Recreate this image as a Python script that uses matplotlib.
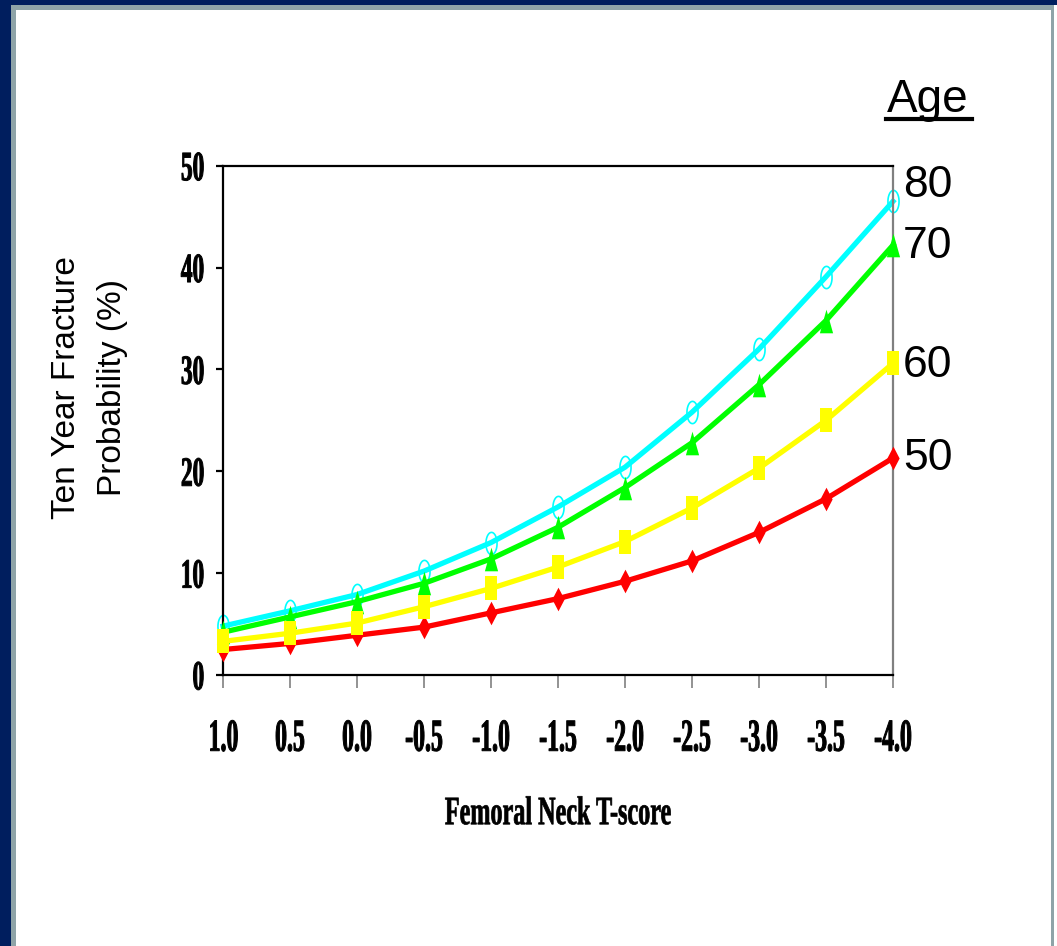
import matplotlib
matplotlib.use("Agg")
import matplotlib.pyplot as plt
import numpy as np
from matplotlib.lines import Line2D
from matplotlib.patches import Rectangle
from matplotlib.patheffects import AbstractPathEffect
from matplotlib.transforms import Affine2D

# femoral neck T-score and ten year fracture probability (%) per age group
tscore = [1.0, 0.5, 0.0, -0.5, -1.0, -1.5, -2.0, -2.5, -3.0, -3.5, -4.0]
tscore_labels = ["1.0", "0.5", "0.0", "-0.5", "-1.0", "-1.5",
                 "-2.0", "-2.5", "-3.0", "-3.5", "-4.0"]
prob_age50 = [2.5, 3.1, 3.9, 4.7, 6.1, 7.5, 9.2, 11.2, 14.0, 17.3, 21.3]
prob_age60 = [3.3, 4.1, 5.1, 6.7, 8.5, 10.6, 13.1, 16.4, 20.3, 25.0, 30.6]
prob_age70 = [4.2, 5.7, 7.2, 9.0, 11.4, 14.5, 18.4, 22.8, 28.5, 34.8, 42.2]
prob_age80 = [4.8, 6.3, 7.9, 10.2, 13.0, 16.5, 20.4, 25.8, 32.0, 39.1, 46.5]
yticks = [0, 10, 20, 30, 40, 50]

W, H = 1057, 946
NAVY = "#001e5e"
SLATE = "#8fa4a8"


class Narrow(AbstractPathEffect):
    """Squeeze glyphs horizontally (condensed look), optionally thickened."""

    def __init__(self, sx=0.55, anchor="center", stroke=0.0):
        super().__init__()
        self.sx = sx
        self.anchor = anchor
        self.stroke = stroke

    def draw_path(self, renderer, gc, tpath, affine, rgbFace=None):
        ext = tpath.get_extents()
        x0 = ext.x1 if self.anchor == "right" else 0.5 * (ext.x0 + ext.x1)
        squeeze = Affine2D().translate(-x0, 0).scale(self.sx, 1).translate(x0, 0)
        gc0 = renderer.new_gc()
        gc0.copy_properties(gc)
        if self.stroke > 0:
            gc0.set_linewidth(self.stroke)
            gc0.set_foreground(rgbFace)
        renderer.draw_path(gc0, tpath, squeeze + affine, rgbFace)
        gc0.restore()


def fx(x):
    return x / W


def fy(y):
    return 1 - y / H


fig = plt.figure(figsize=(W / 100, H / 100), dpi=100)
fig.patch.set_facecolor("white")

# slide frame
for x0, y0, x1, y1, c in [
    (0, 0, W, 5, NAVY),
    (0, 0, 11, H, NAVY),
    (11, 5, 1054, 10, SLATE),
    (11, 5, 16, H, SLATE),
    (1051, 5, 1054, H, SLATE),
]:
    fig.add_artist(Rectangle((fx(x0), fy(y1)), (x1 - x0) / W, (y1 - y0) / H,
                             transform=fig.transFigure, color=c, lw=0))

ax = fig.add_axes([fx(223), fy(675), fx(893) - fx(223), fy(165.7) - fy(675)])
ax.set_facecolor("white")

# tall, narrow marker shapes
t = np.linspace(0, 2 * np.pi, 48)
ellipse = list(zip(0.5 * np.cos(t), np.sin(t)))
triangle = [(-0.56, -1), (0.56, -1), (0, 1)]
square = [(-0.52, -1), (0.52, -1), (0.52, 1), (-0.52, 1)]
diamond = [(0, -1), (0.52, 0), (0, 1), (-0.52, 0)]

ax.plot(tscore, prob_age80, color="#00ffff", lw=3.8, marker=ellipse, ms=16,
        mfc="none", mec="#00ffff", mew=1.2, clip_on=False, zorder=2)
ax.plot(tscore, prob_age70, color="#00ff00", lw=3.8, marker=triangle, ms=17,
        mfc="#00ff00", mec="#00ff00", mew=0, clip_on=False, zorder=3)
ax.plot(tscore, prob_age50, color="#ff0000", lw=3.8, marker=diamond, ms=17,
        mfc="#ff0000", mec="#ff0000", mew=0, clip_on=False, zorder=4)
ax.plot(tscore, prob_age60, color="#ffff00", lw=3.8, marker=square, ms=17,
        mfc="#ffff00", mec="#ffff00", mew=0, clip_on=False, zorder=5)

ax.set_xlim(tscore[0], tscore[-1])
ax.set_ylim(0, 50)
ax.set_xticks(tscore, tscore_labels)
ax.set_yticks(yticks, [str(v) for v in yticks])

for side in ["left", "bottom", "top"]:
    ax.spines[side].set_color("black")
    ax.spines[side].set_linewidth(1.6)
ax.spines["right"].set_color("#808080")
ax.spines["right"].set_linewidth(1.6)

ax.tick_params(axis="x", direction="out", length=9.5, width=1.2,
               color="#808080", pad=22)
ax.tick_params(axis="y", direction="out", length=5, width=1.6,
               color="black", pad=8)

for lbl in ax.get_xticklabels():
    lbl.set_fontfamily("Liberation Serif")
    lbl.set_fontweight("bold")
    lbl.set_fontsize(33)
    lbl.set_path_effects([Narrow(0.52, stroke=0.7)])
for lbl in ax.get_yticklabels():
    lbl.set_fontfamily("Liberation Serif")
    lbl.set_fontweight("bold")
    lbl.set_fontsize(30)
    lbl.set_path_effects([Narrow(0.56, anchor="right", stroke=0.7)])

ax.set_xlabel("Femoral Neck T-score", fontfamily="Liberation Serif",
              fontweight="bold", fontsize=29,
              path_effects=[Narrow(0.6, stroke=0.5)])
ax.xaxis.set_label_coords(0.5, -0.238)

ax.set_ylabel("Ten Year Fracture\nProbability (%)",
              fontfamily="Liberation Sans", fontsize=24, linespacing=1.6)
ax.yaxis.set_label_coords(-0.142, 0.565)

# age legend at the right-hand end of each curve
fig.text(fx(887), fy(112), "Age", fontfamily="Liberation Sans", fontsize=33,
         ha="left", va="baseline")
fig.add_artist(Line2D([fx(886), fx(972)], [fy(119), fy(119)], color="black",
                      lw=3, transform=fig.transFigure))
for age, base in zip(["80", "70", "60", "50"], [197, 258, 377, 470]):
    fig.text(fx(903), fy(base), age, fontfamily="Liberation Sans", fontsize=32,
             ha="left", va="baseline")

fig.savefig("out.png", dpi=100)
